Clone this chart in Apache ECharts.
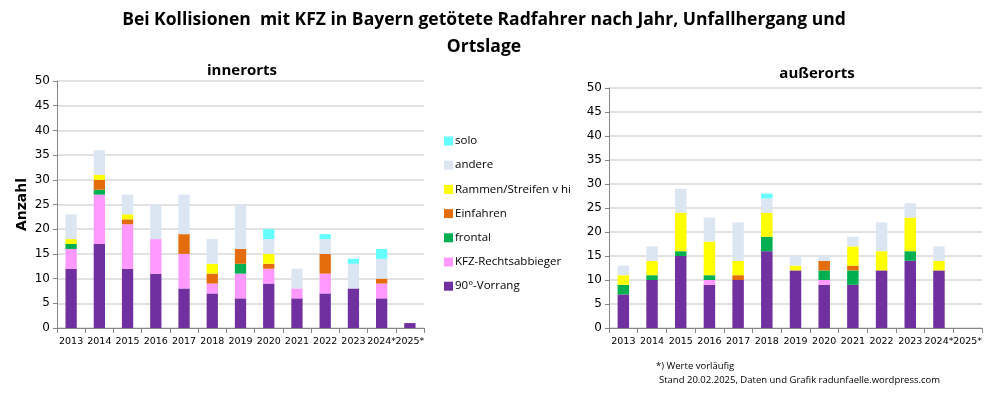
<!DOCTYPE html>
<html><head><meta charset="utf-8">
<script src="https://cdn.jsdelivr.net/npm/echarts@6/dist/echarts.min.js"></script>
<style>html,body{margin:0;padding:0;background:#fff}#c{width:999px;height:394px}</style>
</head><body><div id="c"></div>
<script>
const years = ['2013','2014','2015','2016','2017','2018','2019','2020','2021','2022','2023','2024*','2025*'];
const seriesNames = ['90°-Vorrang','KFZ-Rechtsabbieger','frontal','Einfahren','Rammen/Streifen v hi','andere','solo'];
const colors = ['#7030A0','#FF99FF','#00B050','#E46C0A','#FFFF00','#DCE6F2','#66FFFF'];
const yTicks = [0,5,10,15,20,25,30,35,40,45,50];

// innerorts
const inVorrang   = [12,17,12,11, 8, 7, 6, 9, 6, 7, 8, 6, 1];
const inRechts    = [ 4,10, 9, 7, 7, 2, 5, 3, 2, 4, 0, 3, 0];
const inFrontal   = [ 1, 1, 0, 0, 0, 0, 2, 0, 0, 0, 0, 0, 0];
const inEinfahren = [ 0, 2, 1, 0, 4, 2, 3, 1, 0, 4, 0, 1, 0];
const inRammen    = [ 1, 1, 1, 0, 0, 2, 0, 2, 0, 0, 0, 0, 0];
const inAndere    = [ 5, 5, 4, 7, 8, 5, 9, 3, 4, 3, 5, 4, 0];
const inSolo      = [ 0, 0, 0, 0, 0, 0, 0, 2, 0, 1, 1, 2, 0];

// außerorts
const ausVorrang   = [ 7,10,15, 9,10,16,12, 9, 9,12,14,12, 0];
const ausRechts    = [ 0, 0, 0, 1, 0, 0, 0, 1, 0, 0, 0, 0, 0];
const ausFrontal   = [ 2, 1, 1, 1, 0, 3, 0, 2, 3, 0, 2, 0, 0];
const ausEinfahren = [ 0, 0, 0, 0, 1, 0, 0, 2, 1, 0, 0, 0, 0];
const ausRammen    = [ 2, 3, 8, 7, 3, 5, 1, 0, 4, 4, 7, 2, 0];
const ausAndere    = [ 2, 3, 5, 5, 8, 3, 2, 1, 2, 6, 3, 3, 0];
const ausSolo      = [ 0, 0, 0, 0, 0, 1, 0, 0, 0, 0, 0, 0, 0];

const inData = [inVorrang,inRechts,inFrontal,inEinfahren,inRammen,inAndere,inSolo];
const ausData = [ausVorrang,ausRechts,ausFrontal,ausEinfahren,ausRammen,ausAndere,ausSolo];

function xAx(gi){return {type:'category',gridIndex:gi,data:years,boundaryGap:true,
  axisLine:{lineStyle:{color:'#868686'}},axisTick:{show:true,alignWithLabel:false,length:5,lineStyle:{color:'#868686'}},
  axisLabel:{margin:9,fontSize:9.5,interval:0,fontFamily:'DejaVu Sans',color:'#000'}};}
function yAx(gi,name){return {type:'value',gridIndex:gi,min:0,max:50,interval:5,
  name:name,nameLocation:'middle',nameRotate:90,nameGap:28,nameTextStyle:{fontFamily:'DejaVu Sans',fontWeight:'bold',fontSize:14,color:'#000'},
  axisLine:{show:true,lineStyle:{color:'#868686'}},axisTick:{show:true,length:4,lineStyle:{color:'#868686'}},
  splitLine:{lineStyle:{color:'#d9d9d9',width:1.5}},
  axisLabel:{fontFamily:'DejaVu Sans',fontSize:12,color:'#000',margin:7}};}

const series=[];
seriesNames.forEach((n,i)=>{
  series.push({name:n,type:'bar',stack:'in',xAxisIndex:0,yAxisIndex:0,data:inData[i],barWidth:'40%',itemStyle:{color:colors[i]}});
});
seriesNames.forEach((n,i)=>{
  series.push({name:n,type:'bar',stack:'aus',xAxisIndex:1,yAxisIndex:1,data:ausData[i],barWidth:'40%',itemStyle:{color:colors[i]}});
});

const chart = echarts.init(document.getElementById('c'),null,{renderer:'canvas'});
chart.setOption({
  animation:false,
  title:[
    {text:'Bei Kollisionen  mit KFZ in Bayern getötete Radfahrer nach Jahr, Unfallhergang und\nOrtslage',left:479,top:2,textAlign:'center',
     textStyle:{fontFamily:'Open Sans',fontWeight:'bold',fontSize:17.5,lineHeight:26.5,color:'#000'}},
    {text:'innerorts',left:237,top:58,textAlign:'center',textStyle:{fontFamily:'Open Sans',fontWeight:'bold',fontSize:15,color:'#000'}},
    {text:'außerorts',left:812,top:61,textAlign:'center',textStyle:{fontFamily:'Open Sans',fontWeight:'bold',fontSize:15,color:'#000'}},
    {text:'*) Werte vorläufig',left:651,top:356,textStyle:{fontFamily:'Open Sans',fontWeight:'normal',fontSize:9.5,color:'#000'}},
    {text:'Stand 20.02.2025, Daten und Grafik radunfaelle.wordpress.com',left:654,top:370,textStyle:{fontFamily:'Open Sans',fontWeight:'normal',fontSize:9.5,color:'#000'}}
  ],
  legend:{orient:'vertical',left:439,top:130,itemWidth:9,itemHeight:9,itemGap:12.2,icon:'rect',
    data:seriesNames.slice().reverse(),
    textStyle:{fontFamily:'Open Sans',fontSize:11.5,color:'#000',padding:[0,0,0,-3]}},
  grid:[{left:57,top:81,width:367,height:247},{left:609,top:88,width:373,height:240}],
  xAxis:[xAx(0),xAx(1)],
  yAxis:[yAx(0,'Anzahl'),yAx(1,'')],
  series:series
});
</script></body></html>
